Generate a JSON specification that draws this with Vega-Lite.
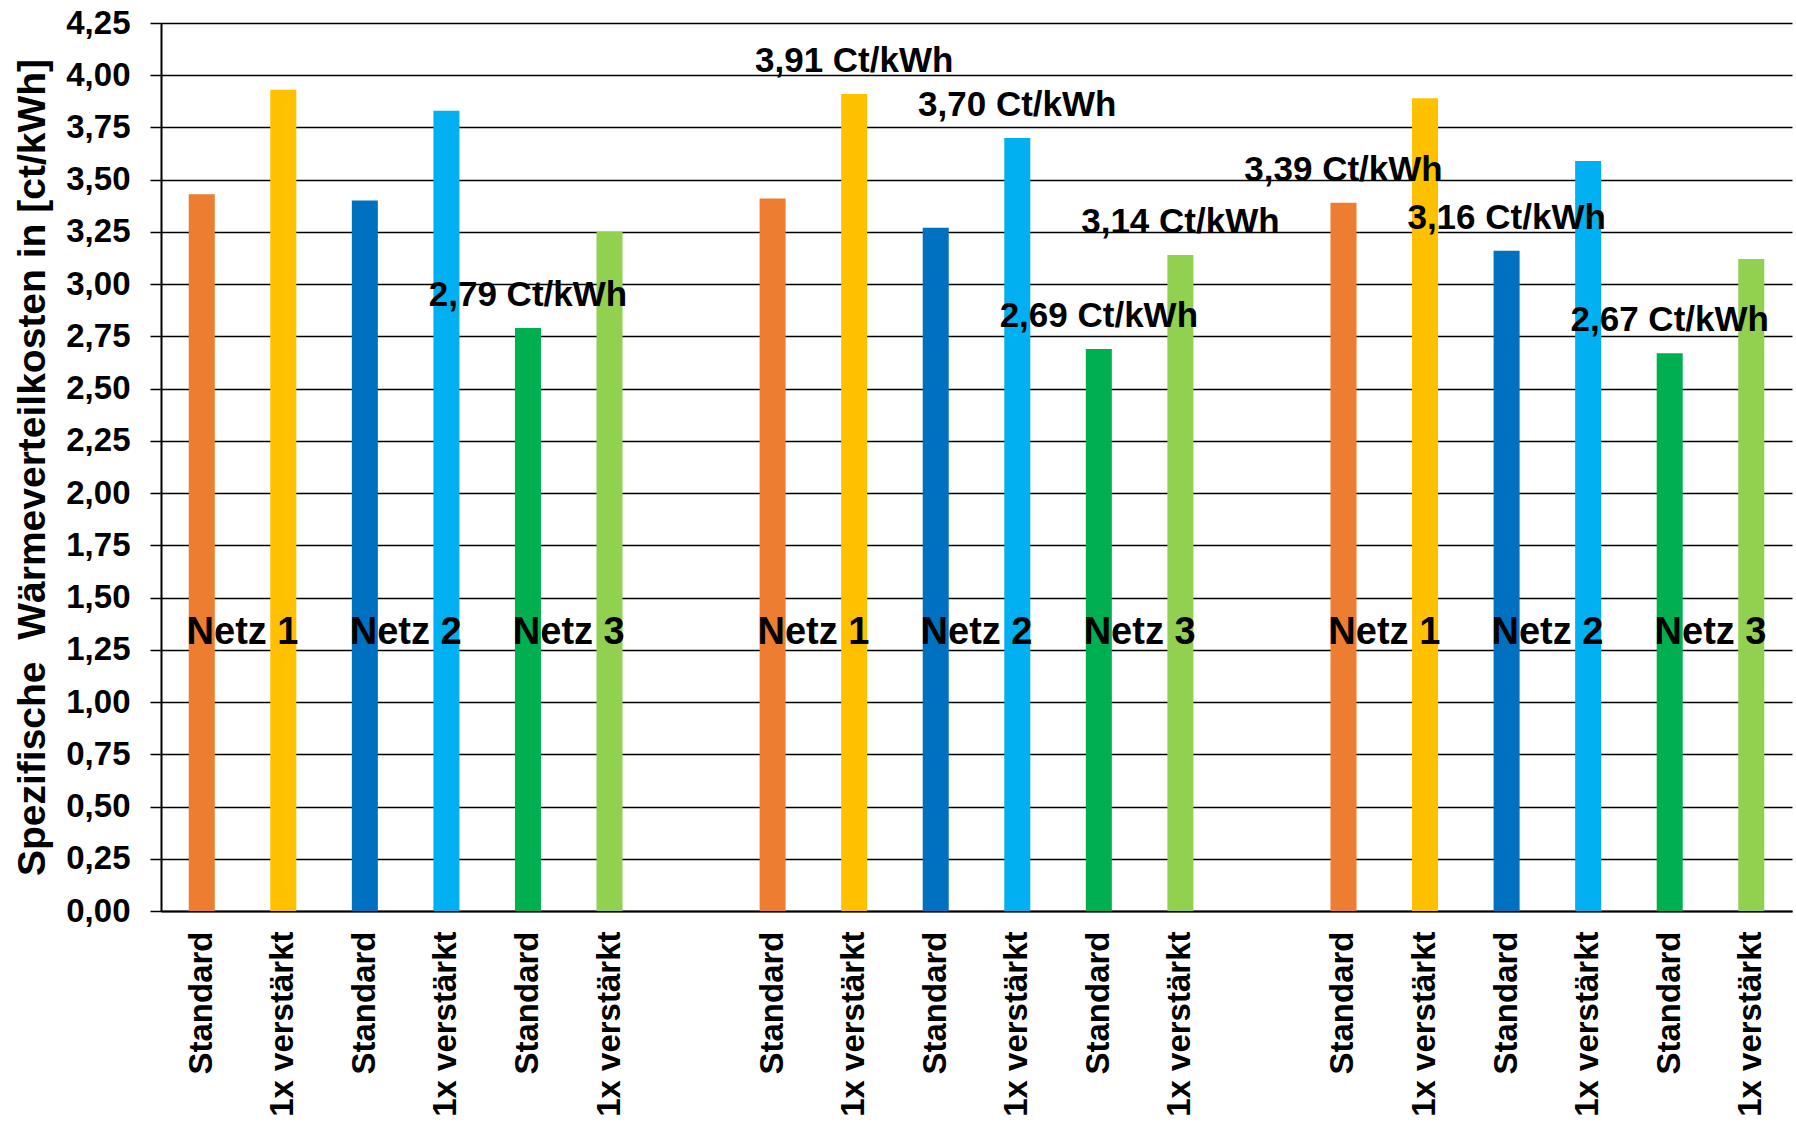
{
  "$schema": "https://vega.github.io/schema/vega-lite/v6.json",
  "width": 1631,
  "height": 888,
  "autosize": {"type": "none"},
  "padding": {"left": 161, "top": 23, "right": 4, "bottom": 212},
  "background": "white",
  "config": {"view": {"stroke": null}, "font": "Liberation Sans"},
  "data": {
    "values": [
      {"slot": "g1-N1-S", "netz": "Netz 1", "variant": "Standard", "serie": "Netz 1 Standard", "value": 3.43},
      {"slot": "g1-N1-V", "netz": "Netz 1", "variant": "1x verstärkt", "serie": "Netz 1 verstärkt", "value": 3.93},
      {"slot": "g1-N2-S", "netz": "Netz 2", "variant": "Standard", "serie": "Netz 2 Standard", "value": 3.40},
      {"slot": "g1-N2-V", "netz": "Netz 2", "variant": "1x verstärkt", "serie": "Netz 2 verstärkt", "value": 3.83},
      {"slot": "g1-N3-S", "netz": "Netz 3", "variant": "Standard", "serie": "Netz 3 Standard", "value": 2.79, "label": "2,79 Ct/kWh"},
      {"slot": "g1-N3-V", "netz": "Netz 3", "variant": "1x verstärkt", "serie": "Netz 3 verstärkt", "value": 3.25},
      {"slot": "g2-N1-S", "netz": "Netz 1", "variant": "Standard", "serie": "Netz 1 Standard", "value": 3.41},
      {"slot": "g2-N1-V", "netz": "Netz 1", "variant": "1x verstärkt", "serie": "Netz 1 verstärkt", "value": 3.91, "label": "3,91 Ct/kWh"},
      {"slot": "g2-N2-S", "netz": "Netz 2", "variant": "Standard", "serie": "Netz 2 Standard", "value": 3.27},
      {"slot": "g2-N2-V", "netz": "Netz 2", "variant": "1x verstärkt", "serie": "Netz 2 verstärkt", "value": 3.70, "label": "3,70 Ct/kWh"},
      {"slot": "g2-N3-S", "netz": "Netz 3", "variant": "Standard", "serie": "Netz 3 Standard", "value": 2.69, "label": "2,69 Ct/kWh"},
      {"slot": "g2-N3-V", "netz": "Netz 3", "variant": "1x verstärkt", "serie": "Netz 3 verstärkt", "value": 3.14, "label": "3,14 Ct/kWh"},
      {"slot": "g3-N1-S", "netz": "Netz 1", "variant": "Standard", "serie": "Netz 1 Standard", "value": 3.39, "label": "3,39 Ct/kWh"},
      {"slot": "g3-N1-V", "netz": "Netz 1", "variant": "1x verstärkt", "serie": "Netz 1 verstärkt", "value": 3.89},
      {"slot": "g3-N2-S", "netz": "Netz 2", "variant": "Standard", "serie": "Netz 2 Standard", "value": 3.16, "label": "3,16 Ct/kWh"},
      {"slot": "g3-N2-V", "netz": "Netz 2", "variant": "1x verstärkt", "serie": "Netz 2 verstärkt", "value": 3.59},
      {"slot": "g3-N3-S", "netz": "Netz 3", "variant": "Standard", "serie": "Netz 3 Standard", "value": 2.67, "label": "2,67 Ct/kWh"},
      {"slot": "g3-N3-V", "netz": "Netz 3", "variant": "1x verstärkt", "serie": "Netz 3 verstärkt", "value": 3.12}
    ]
  },
  "encoding": {
    "x": {
      "field": "slot",
      "type": "nominal",
      "sort": null,
      "title": null,
      "scale": {
        "domain": ["g1-N1-S", "g1-N1-V", "g1-N2-S", "g1-N2-V", "g1-N3-S", "g1-N3-V", "gap1",
                   "g2-N1-S", "g2-N1-V", "g2-N2-S", "g2-N2-V", "g2-N3-S", "g2-N3-V", "gap2",
                   "g3-N1-S", "g3-N1-V", "g3-N2-S", "g3-N2-V", "g3-N3-S", "g3-N3-V"],
        "paddingInner": 0.681,
        "paddingOuter": 0.34
      },
      "axis": {
        "title": null,
        "labelAngle": -90,
        "labelAlign": "right",
        "labelBaseline": "middle",
        "labelFontSize": 33,
        "labelFontWeight": "bold",
        "labelColor": "black",
        "labelPadding": 20,
        "labelLimit": 400,
        "ticks": false,
        "grid": false,
        "domain": true,
        "domainColor": "black",
        "domainWidth": 2,
        "labelExpr": "indexof(datum.value, 'gap') >= 0 ? '' : (indexof(datum.value, '-S') >= 0 ? 'Standard' : '1x verstärkt')"
      }
    }
  },
  "layer": [
    {
      "mark": {"type": "bar"},
      "encoding": {
        "y": {
          "field": "value",
          "type": "quantitative",
          "scale": {"domain": [0, 4.25], "nice": false, "zero": true},
          "axis": {
            "values": [0, 0.25, 0.5, 0.75, 1, 1.25, 1.5, 1.75, 2, 2.25, 2.5, 2.75, 3, 3.25, 3.5, 3.75, 4, 4.25],
            "labelExpr": "replace(format(datum.value, '.2f'), '.', ',')",
            "labelFontSize": 33,
            "labelFontWeight": "bold",
            "labelColor": "black",
            "labelPadding": 20,
            "tickSize": 11,
            "tickColor": "black",
            "tickWidth": 1.5,
            "grid": true,
            "gridColor": "black",
            "gridWidth": 1.5,
            "gridOpacity": 1,
            "domainColor": "black",
            "domainWidth": 2,
            "title": "Spezifische\u00a0 Wärmeverteilkosten in [ct/kWh]",
            "titleFontSize": 39,
            "titleFontWeight": "bold",
            "titleColor": "black",
            "titlePadding": 13
          }
        },
        "color": {
          "field": "serie",
          "type": "nominal",
          "legend": null,
          "scale": {
            "domain": ["Netz 1 Standard", "Netz 1 verstärkt", "Netz 2 Standard", "Netz 2 verstärkt", "Netz 3 Standard", "Netz 3 verstärkt"],
            "range": ["#ED7D31", "#FFC000", "#0070C0", "#00B0F0", "#00B050", "#92D050"]
          }
        }
      }
    },
    {
      "transform": [{"filter": "datum.variant == 'Standard'"}],
      "mark": {"type": "text", "fontSize": 38, "fontWeight": "bold", "color": "black", "align": "center", "baseline": "alphabetic", "dx": 40.8},
      "encoding": {
        "y": {"datum": 1.28, "type": "quantitative"},
        "text": {"field": "netz"}
      }
    },
    {
      "transform": [{"filter": "isValid(datum.label)"}],
      "mark": {"type": "text", "fontSize": 35, "fontWeight": "bold", "color": "black", "align": "center", "baseline": "alphabetic", "dy": -22},
      "encoding": {
        "y": {"field": "value", "type": "quantitative"},
        "text": {"field": "label"}
      }
    }
  ]
}
